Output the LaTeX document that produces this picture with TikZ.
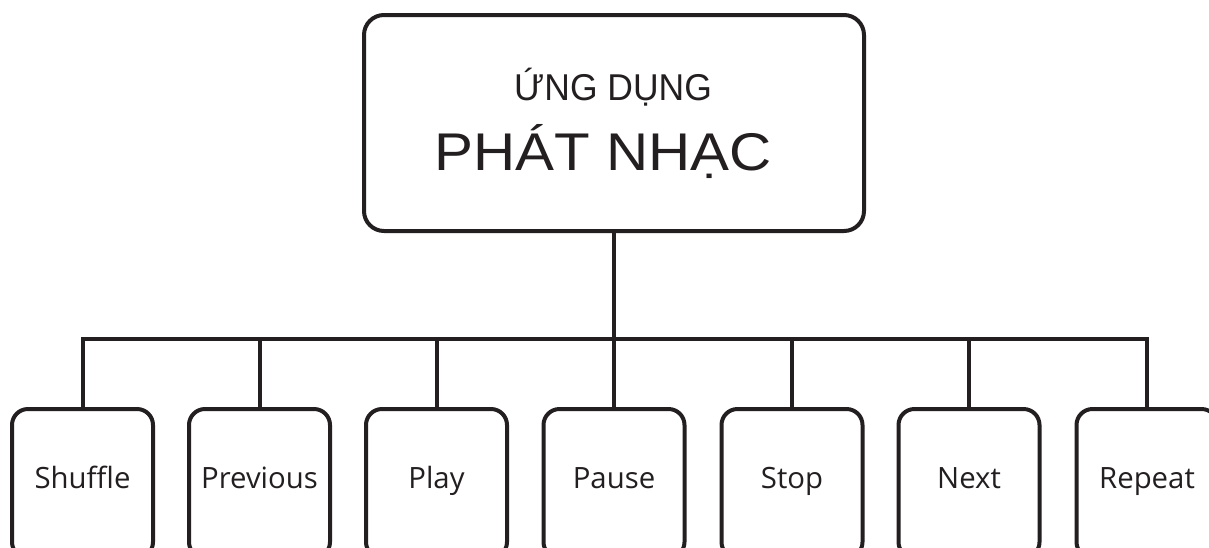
\documentclass[tikz,border=0pt]{standalone}
\usepackage{fontspec}
\setmainfont{Open Sans}
\newfontfamily\titlefont{Liberation Sans}
\definecolor{ink}{HTML}{231F20}
\begin{document}
\begin{tikzpicture}[x=0.75pt,y=-0.75pt,
  wire/.style={draw=ink, line width=3pt},
  rootbox/.style={draw=ink, line width=3pt, rounded corners=15pt, minimum width=375pt, minimum height=162pt, inner sep=0pt},
  kidbox/.style={draw=ink, line width=3pt, rounded corners=12pt, minimum width=105.75pt, minimum height=111.75pt, inner sep=0pt, text height=12pt, text depth=5.25pt, font=\fontsize{22pt}{26pt}\selectfont, text=ink},
  titletext/.style={anchor=base, inner sep=0pt, text=ink}
]
\useasboundingbox (0,0) rectangle (1209,547);
\fill[white] (0,0) rectangle (1209,547);
\clip (0,0) rectangle (1209,547);

\node[rootbox] (root) at (614,123) {};
\node[titletext, font=\titlefont\fontsize{28pt}{32pt}\selectfont] (t1) at (613,100) {\scalebox{0.95}[1]{ỨNG DỤNG}};
\node[titletext, font=\titlefont\fontsize{39.8pt}{46pt}\selectfont] (t2) at (603.5,170) {\scalebox{1.1}[1]{PHÁT NHẠC}};

\node[kidbox] (shuffle)  at (82.5,483.5) {Shuffle};
\node[kidbox] (previous) at (259.5,483.5) {Previous};
\node[kidbox] (play)     at (436.5,483.5) {Play};
\node[kidbox] (pause)    at (614,483.5) {Pause};
\node[kidbox] (stop)     at (792,483.5) {Stop};
\node[kidbox] (next)     at (969,483.5) {Next};
\node[kidbox] (repeat)   at (1147,483.5) {Repeat};

\coordinate (bus) at (0,339);
\draw[wire] (root.south) -- (root.south |- bus);
\draw[wire] (shuffle.north) |- (repeat.north |- bus) -- (repeat.north);
\foreach \k in {previous,play,pause,stop,next}{
  \draw[wire] (\k.north) -- (\k.north |- bus);
}
\end{tikzpicture}
\end{document}
